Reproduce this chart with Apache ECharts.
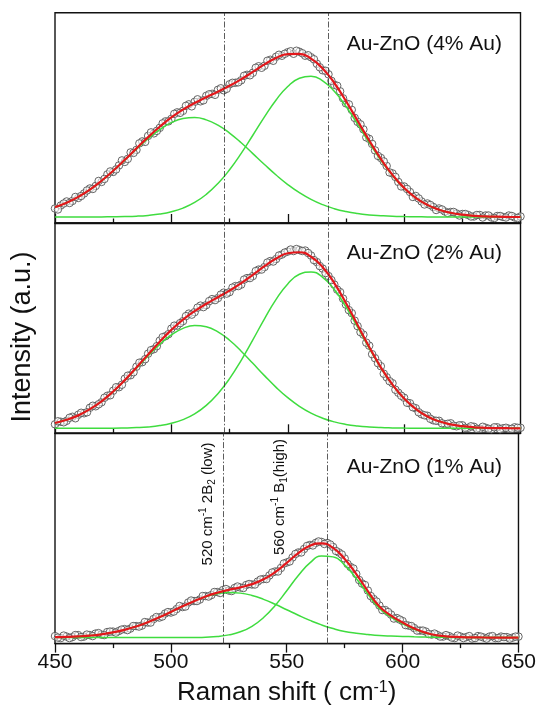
<!DOCTYPE html>
<html>
<head>
<meta charset="utf-8">
<title>Raman Au-ZnO</title>
<script src="https://cdn.jsdelivr.net/npm/echarts@6/dist/echarts.min.js"></script>
<style>
  html, body { margin: 0; padding: 0; background: #fff; }
  #chart { width: 539px; height: 713px; }
</style>
</head>
<body>
<div id="chart"></div>
<script>
// raman shift grid of the fitted curves and of the measured points
const xFit = [450, 455, 460, 465, 470, 475, 480, 485, 490, 495, 500, 505, 510, 515, 520, 525, 530, 535, 540, 545,
  550, 555, 560, 565, 570, 575, 580, 585, 590, 595, 600, 605, 610, 615, 620, 625, 630, 635, 640, 645, 650];
const xObs = [450, 452.5, 455, 457.5, 460, 462.5, 465, 467.5, 470, 472.5, 475, 477.5, 480, 482.5, 485, 487.5,
  490, 492.5, 495, 497.5, 500, 502.5, 505, 507.5, 510, 512.5, 515, 517.5, 520, 522.5, 525, 527.5, 530, 532.5,
  535, 537.5, 540, 542.5, 545, 547.5, 550, 552.5, 555, 557.5, 560, 562.5, 565, 567.5, 570, 572.5, 575, 577.5,
  580, 582.5, 585, 587.5, 590, 592.5, 595, 597.5, 600, 602.5, 605, 607.5, 610, 612.5, 615, 617.5, 620, 622.5,
  625, 627.5, 630, 632.5, 635, 637.5, 640, 642.5, 645, 647.5, 650];
const xObsB = [451.25, 453.75, 456.25, 458.75, 461.25, 463.75, 466.25, 468.75, 471.25, 473.75,
  476.25, 478.75, 481.25, 483.75, 486.25, 488.75, 491.25, 493.75, 496.25, 498.75,
  501.25, 503.75, 506.25, 508.75, 511.25, 513.75, 516.25, 518.75, 521.25, 523.75,
  526.25, 528.75, 531.25, 533.75, 536.25, 538.75, 541.25, 543.75, 546.25, 548.75,
  551.25, 553.75, 556.25, 558.75, 561.25, 563.75, 566.25, 568.75, 571.25, 573.75,
  576.25, 578.75, 581.25, 583.75, 586.25, 588.75, 591.25, 593.75, 596.25, 598.75,
  601.25, 603.75, 606.25, 608.75, 611.25, 613.75, 616.25, 618.75, 621.25, 623.75,
  626.25, 628.75, 631.25, 633.75, 636.25, 638.75, 641.25, 643.75, 646.25, 648.75];
const xTicks = [450, 500, 550, 600, 650];
const refLines = [522.7, 567.4]; // 2B2(low) and B1(high) markers

// 4% Au
const obs4 = [14.5, 17.5, 21.5, 22.0, 25.0, 29.5, 34.5, 37.0, 41.0, 48.5,
  51.0, 57.5, 61.0, 70.5, 73.0, 81.5, 87.0, 89.5, 95.0, 101.5,
  104.0, 110.5, 112.0, 118.5, 121.0, 121.5, 127.0, 129.0, 133.0, 132.5,
  138.5, 140.0, 142.5, 148.0, 150.0, 156.5, 157.0, 163.0, 166.0, 167.0,
  170.5, 169.0, 171.0, 167.0, 165.5, 159.0, 152.5, 148.5, 138.0, 131.5,
  119.5, 113.0, 101.0, 93.5, 84.0, 72.5, 65.0, 57.0, 49.5, 41.0,
  36.5, 31.0, 27.0, 21.5, 19.5, 16.0, 14.5, 11.5, 11.0, 9.5,
  9.0, 8.0, 6.5, 8.0, 7.5, 5.5, 7.0, 6.0, 7.5, 5.5,
  6.5];
const obs4b = [13.5, 19.5, 20.0, 26.0, 27.0, 32.5, 34.0, 42.0, 44.0, 51.5,
  53.5, 62.5, 64.0, 70.0, 79.5, 81.0, 90.5, 92.0, 99.5, 101.5,
  109.0, 110.0, 117.0, 116.5, 123.5, 122.5, 128.5, 128.0, 134.5, 134.0,
  140.0, 140.5, 147.0, 147.5, 155.0, 155.0, 162.0, 162.0, 168.0, 169.0,
  171.5, 172.0, 169.5, 167.5, 163.5, 155.5, 152.0, 142.0, 137.0, 124.5,
  118.5, 105.0, 98.5, 85.5, 79.0, 67.0, 61.5, 50.5, 46.0, 36.5,
  34.0, 26.0, 24.5, 18.5, 18.0, 13.0, 13.5, 10.0, 11.0, 7.5,
  9.0, 6.5, 8.0, 5.5, 7.5, 5.0, 7.0, 5.5, 7.0, 5.0];
const fit4 = [15.8, 20.2, 26.1, 33.3, 42.2, 52.2, 63.1, 74.5, 85.7, 96.1, 105.4, 113.2, 119.8, 125.6, 131.1,
  137.0, 143.6, 150.9, 158.4, 164.8, 168.7, 168.9, 164.2, 154.3, 139.8, 121.8, 102.1, 82.4, 64.0, 48.0,
  35.1, 25.2, 18.1, 13.3, 10.2, 8.3, 7.2, 6.6, 6.3, 6.1, 6.0];
const low4 = [15.8, 20.2, 26.1, 33.3, 42.1, 52.0, 62.7, 73.7, 84.1, 93.2, 100.2, 104.3, 105.3, 103.0, 97.7,
  89.8, 80.1, 69.3, 58.4, 47.9, 38.4, 30.3, 23.6, 18.3, 14.3, 11.4, 9.4, 8.1, 7.3, 6.7,
  6.4, 6.2, 6.1, 6.0, 6.0, 6.0, 6.0, 6.0, 6.0, 6.0, 6.0];
const high4 = [6.0, 6.0, 6.0, 6.0, 6.1, 6.2, 6.4, 6.8, 7.6, 8.9, 11.2, 14.9, 20.5, 28.6, 39.4,
  53.2, 69.5, 87.6, 106.0, 122.9, 136.3, 144.6, 146.6, 142.0, 131.5, 116.4, 98.7, 80.3, 62.7, 47.3,
  34.7, 25.0, 18.0, 13.3, 10.2, 8.3, 7.2, 6.6, 6.3, 6.1, 6.0];

// 2% Au
const obs2 = [9.0, 11.5, 12.5, 16.5, 18.5, 20.0, 25.5, 27.0, 31.0, 37.5,
  42.5, 46.0, 54.5, 58.0, 66.5, 71.0, 79.5, 84.0, 92.5, 97.0,
  104.5, 107.5, 112.0, 119.5, 121.0, 127.5, 128.0, 134.0, 135.0, 140.5,
  141.0, 147.0, 148.5, 155.0, 157.0, 163.5, 166.0, 172.0, 174.0, 178.5,
  181.5, 182.0, 183.0, 182.5, 177.5, 171.0, 164.5, 157.0, 148.5, 141.0,
  128.5, 120.0, 107.0, 98.5, 87.5, 75.0, 67.0, 56.0, 50.0, 40.5,
  35.5, 30.0, 25.0, 19.0, 17.5, 13.0, 12.5, 9.0, 10.0, 7.0,
  8.0, 5.5, 6.5, 4.5, 5.5, 4.0, 6.0, 5.0, 4.5, 6.0,
  5.5];
const obs2b = [12.0, 11.0, 15.5, 15.0, 20.5, 21.0, 27.5, 29.0, 35.5, 38.0,
  46.0, 48.5, 57.5, 61.0, 70.5, 74.0, 83.0, 87.0, 96.0, 99.0,
  107.5, 110.0, 117.0, 118.5, 125.5, 126.0, 132.0, 133.0, 138.5, 139.5,
  145.5, 147.0, 153.5, 155.0, 162.0, 163.5, 170.5, 171.5, 177.5, 180.5,
  183.5, 184.0, 182.0, 180.0, 173.0, 167.0, 160.0, 153.0, 143.5, 134.5,
  123.0, 112.5, 101.0, 90.5, 79.0, 70.0, 59.5, 52.0, 43.5, 37.5,
  30.5, 26.0, 21.0, 18.0, 14.5, 12.5, 10.0, 9.5, 7.5, 8.0,
  5.5, 7.0, 4.5, 6.5, 4.5, 6.0, 4.0, 5.5, 4.5, 5.5];
const fit2 = [10.3, 13.5, 17.9, 24.1, 32.0, 41.7, 53.1, 65.7, 78.7, 91.5, 103.3, 113.5, 122.0, 129.3, 135.9,
  142.5, 149.9, 158.2, 166.9, 174.6, 179.8, 180.8, 176.3, 165.9, 150.0, 130.1, 108.2, 86.2, 65.9, 48.6,
  34.7, 24.3, 16.8, 12.0, 8.9, 7.1, 6.0, 5.5, 5.2, 5.1, 5.0];
const low2 = [10.3, 13.5, 17.9, 24.1, 31.9, 41.6, 52.8, 65.0, 77.3, 88.8, 98.3, 104.8, 107.6, 106.4, 101.3,
  92.9, 82.0, 69.9, 57.6, 45.9, 35.6, 27.0, 20.2, 15.1, 11.4, 8.9, 7.3, 6.3, 5.7, 5.4,
  5.2, 5.1, 5.0, 5.0, 5.0, 5.0, 5.0, 5.0, 5.0, 5.0, 5.0];
const high2 = [5.0, 5.0, 5.0, 5.0, 5.1, 5.1, 5.3, 5.7, 6.4, 7.7, 10.0, 13.7, 19.4, 27.9, 39.6,
  54.6, 72.9, 93.3, 114.3, 133.7, 149.2, 158.8, 161.1, 155.8, 143.6, 126.2, 105.9, 84.9, 65.2, 48.2,
  34.5, 24.2, 16.8, 12.0, 8.9, 7.1, 6.0, 5.5, 5.2, 5.1, 5.0];

// 1% Au
const obs1 = [7.5, 5.5, 7.0, 6.5, 8.5, 7.0, 8.5, 10.0, 9.0, 11.5,
  12.0, 12.5, 14.5, 15.0, 17.5, 18.0, 21.0, 24.5, 26.0, 30.0,
  31.0, 34.5, 36.5, 41.0, 42.5, 44.0, 47.5, 48.5, 51.5, 53.5,
  53.0, 55.5, 56.0, 58.5, 59.0, 62.0, 64.5, 68.0, 72.0, 75.5,
  81.0, 86.0, 91.0, 94.5, 98.5, 100.5, 101.5, 100.5, 96.5, 91.0,
  85.0, 76.5, 69.5, 60.0, 53.0, 44.5, 38.0, 33.5, 29.0, 25.5,
  22.5, 18.0, 15.5, 13.0, 12.0, 9.0, 8.5, 7.0, 7.5, 5.5,
  7.0, 6.5, 5.0, 7.5, 6.0, 7.0, 5.5, 7.0, 6.5, 6.0,
  7.0];
const obs1b = [6.0, 8.0, 5.5, 8.5, 6.5, 9.0, 7.5, 10.5, 8.5, 12.0,
  11.0, 14.0, 13.5, 17.5, 17.0, 21.5, 21.0, 26.5, 27.0, 31.5,
  32.0, 37.5, 37.0, 43.0, 42.5, 47.5, 47.0, 51.5, 50.5, 54.5,
  52.5, 57.0, 55.5, 59.5, 59.0, 64.0, 64.5, 71.0, 72.0, 80.0,
  82.0, 89.5, 91.0, 97.5, 98.0, 102.0, 99.5, 99.0, 92.5, 89.0,
  79.5, 75.0, 63.5, 58.5, 47.5, 42.0, 33.5, 31.5, 25.0, 24.0,
  18.5, 17.5, 13.0, 13.0, 9.5, 10.0, 7.0, 8.5, 6.0, 8.0,
  5.5, 7.5, 5.5, 7.0, 5.0, 7.5, 5.5, 6.5, 5.0, 7.0];
const fit1 = [6.4, 6.7, 7.2, 8.0, 9.3, 11.2, 13.7, 17.1, 21.3, 26.2, 31.6, 37.2, 42.4, 47.1, 50.8,
  53.7, 56.2, 59.4, 64.2, 71.4, 80.6, 90.3, 97.8, 100.1, 95.6, 84.5, 69.4, 52.5, 37.0, 28.0,
  21.0, 15.0, 10.8, 8.2, 7.0, 6.5, 6.2, 6.1, 6.0, 6.0, 6.0];
const low1 = [6.4, 6.7, 7.2, 8.0, 9.3, 11.2, 13.7, 17.1, 21.3, 26.2, 31.6, 37.2, 42.4, 46.7, 49.7,
  51.0, 50.4, 48.1, 44.2, 39.3, 33.8, 28.3, 23.2, 18.7, 15.0, 12.1, 10.3, 9.0, 8.0, 7.5,
  7.2, 6.8, 6.5, 6.3, 6.2, 6.1, 6.0, 6.0, 6.0, 6.0, 6.0];
const high1 = [6.0, 6.0, 6.0, 6.0, 6.0, 6.0, 6.0, 6.0, 6.0, 6.0, 6.0, 6.0, 6.0, 6.4, 7.1,
  8.7, 11.8, 17.3, 26.0, 38.1, 52.8, 68.0, 80.6, 87.4, 86.6, 78.4, 65.1, 49.5, 35.0, 26.5,
  19.8, 14.2, 10.3, 7.9, 6.8, 6.4, 6.2, 6.1, 6.0, 6.0, 6.0];

const panels = [
  { label: "Au-ZnO (4% Au)", obs: obs4, obsB: obs4b, fit: fit4, low: low4, high: high4 },
  { label: "Au-ZnO (2% Au)", obs: obs2, obsB: obs2b, fit: fit2, low: low2, high: high2 },
  { label: "Au-ZnO (1% Au)", obs: obs1, obsB: obs1b, fit: fit1, low: low1, high: high1 },
];

const FONT = "'Liberation Sans', Arial, sans-serif";
const INK = "#111";
const GREEN = "#3fdc3f";
const RED = "#e3171b";
const TOP = 12.7;
const H = 210.3;

const pairs = (xs, ys) => xs.map((x, i) => [x, ys[i]]);

const grids = panels.map((p, i) => ({
  left: 55,
  width: 465.5,
  top: TOP + i * H,
  height: H,
  show: true,
  borderColor: INK,
  borderWidth: 1.4,
}));

const xAxes = panels.map((p, i) => {
  const last = i === panels.length - 1;
  return {
    type: "value",
    gridIndex: i,
    min: xTicks[0],
    max: xTicks[xTicks.length - 1],
    interval: 50,
    axisLine: { show: true, lineStyle: { color: INK, width: 1.4 } },
    axisTick: { show: true, inside: !last, length: 9, lineStyle: { color: INK, width: 1.3 } },
    minorTick: { show: true, splitNumber: 2, length: 4.5, lineStyle: { color: INK, width: 1.3 } },
    splitLine: { show: false },
    axisLabel: {
      show: last,
      color: INK,
      fontSize: 21,
      fontFamily: FONT,
      margin: 8,
    },
    name: last ? "Raman shift ( cm{sup|-1})" : "",
    nameLocation: "middle",
    nameGap: 36,
    nameTextStyle: {
      color: INK,
      fontSize: 26,
      fontFamily: FONT,
      rich: { sup: { fontSize: 16, fontFamily: FONT, color: INK, verticalAlign: "top" } },
    },
  };
});

const yAxes = panels.map((p, i) => ({
  type: "value",
  gridIndex: i,
  min: 0,
  max: 210,
  axisLine: { show: false },
  axisTick: { show: false },
  axisLabel: { show: false },
  splitLine: { show: false },
}));

const series = [];
panels.forEach((p, i) => {
  series.push({
    type: "scatter",
    xAxisIndex: i,
    yAxisIndex: i,
    data: pairs(xObs, p.obs).concat(pairs(xObsB, p.obsB)),
    symbol: "circle",
    symbolSize: 7.5,
    itemStyle: { color: "rgba(255,255,255,0.55)", borderColor: "#555", borderWidth: 0.9, opacity: 1 },
    z: 2,
  });
  [p.low, p.high].forEach((arr) => {
    series.push({
      type: "line",
      xAxisIndex: i,
      yAxisIndex: i,
      data: pairs(xFit, arr),
      smooth: true,
      symbol: "none",
      lineStyle: { color: GREEN, width: 1.5 },
      z: 3,
    });
  });
  series.push({
    type: "line",
    xAxisIndex: i,
    yAxisIndex: i,
    data: pairs(xFit, p.fit),
    smooth: true,
    symbol: "none",
    lineStyle: { color: RED, width: 2.2 },
    z: 4,
    markLine: {
      silent: true,
      symbol: ["none", "none"],
      label: { show: false },
      lineStyle: { color: "#333", width: 0.8, type: [6, 2, 1.5, 2] },
      data: refLines.map((v) => ({ xAxis: v })),
    },
  });
});

// superscript / subscript pushed up or down through padding
const supRich = {
  sup: { fontSize: 10, fontFamily: FONT, fill: INK, padding: [0, 0, 10, 0] },
  sub: { fontSize: 10, fontFamily: FONT, fill: INK, padding: [8, 0, 0, 0] },
};

const graphic = [
  {
    type: "text",
    x: 23,
    y: 337,
    rotation: Math.PI / 2,
    style: {
      text: "Intensity (a.u.)",
      fontSize: 27,
      fontFamily: FONT,
      fill: INK,
      align: "center",
      verticalAlign: "middle",
    },
  },
  {
    type: "text",
    x: 208,
    y: 504,
    rotation: Math.PI / 2,
    style: {
      text: "520 cm{sup|-1} 2B{sub|2} (low)",
      fontSize: 15,
      fontFamily: FONT,
      fill: INK,
      align: "center",
      verticalAlign: "middle",
      rich: supRich,
    },
  },
  {
    type: "text",
    x: 280,
    y: 497,
    rotation: Math.PI / 2,
    style: {
      text: "560 cm{sup|-1} B{sub|1}(high)",
      fontSize: 15,
      fontFamily: FONT,
      fill: INK,
      align: "center",
      verticalAlign: "middle",
      rich: supRich,
    },
  },
];
[44, 253, 467].forEach((y, i) => {
  graphic.push({
    type: "text",
    x: 502,
    y: y,
    style: {
      text: panels[i].label,
      fontSize: 21,
      fontFamily: FONT,
      fill: INK,
      align: "right",
      verticalAlign: "middle",
    },
  });
});

const chart = echarts.init(document.getElementById("chart"));
chart.setOption({
  animation: false,
  backgroundColor: "#fff",
  grid: grids,
  xAxis: xAxes,
  yAxis: yAxes,
  series: series,
  graphic: graphic,
});
</script>
</body>
</html>
